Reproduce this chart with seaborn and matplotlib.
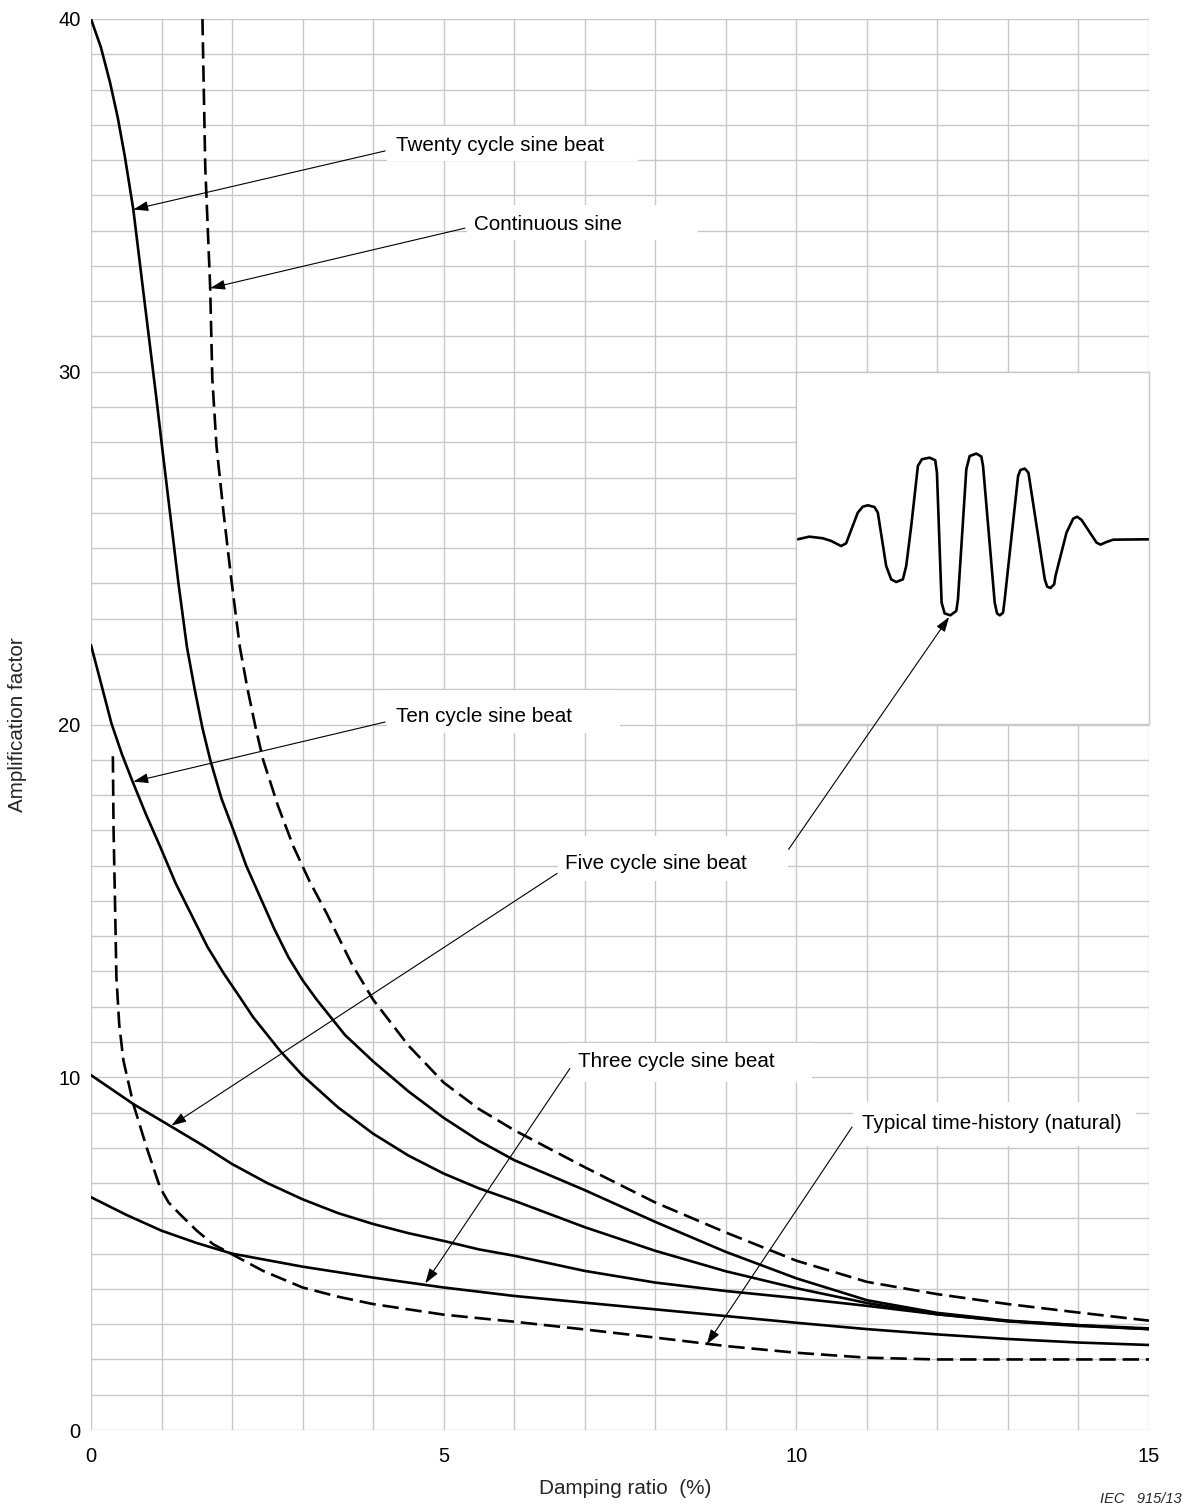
import numpy as np
import pandas as pd
import matplotlib
matplotlib.use("Agg")
import matplotlib.pyplot as plt
import seaborn as sns
from matplotlib.patches import Rectangle
from matplotlib.ticker import MultipleLocator, FuncFormatter

# ---- curve data: damping ratio (%) vs amplification factor ----
twenty_x = [0, 0.14, 0.27, 0.38, 0.48, 0.6, 0.74, 0.93, 1.0, 1.12, 1.24, 1.36, 1.47, 1.58,
            1.69, 1.85, 2.02, 2.2, 2.4, 2.6, 2.8, 3.0, 3.2, 3.6, 4.0, 4.5, 5.0, 5.5, 6, 7,
            8, 9, 10, 11, 12, 13, 14, 15]
twenty_y = [40, 39.2, 38.2, 37.2, 36.1, 34.6, 32.3, 29.2, 28.0, 26.0, 24.0, 22.2, 21.0,
            19.9, 19.0, 17.9, 17.0, 16.0, 15.1, 14.2, 13.4, 12.75, 12.2, 11.2, 10.45, 9.6,
            8.85, 8.2, 7.65, 6.8, 5.9, 5.05, 4.3, 3.68, 3.32, 3.1, 2.97, 2.88]

ten_x = [0, 0.13, 0.29, 0.44, 0.59, 0.78, 0.98, 1.2, 1.45, 1.65, 1.88, 2.1, 2.3, 2.5, 2.68,
         3.0, 3.5, 4.0, 4.5, 5.0, 5.5, 6, 7, 8, 9, 10, 11, 12, 13, 14, 15]
ten_y = [22.25, 21.26, 20.03, 19.15, 18.38, 17.45, 16.54, 15.5, 14.5, 13.7, 12.95, 12.3,
         11.7, 11.2, 10.75, 10.05, 9.15, 8.4, 7.78, 7.27, 6.85, 6.5, 5.75, 5.08, 4.5, 4.02,
         3.6, 3.28, 3.08, 2.95, 2.86]

five_x = [0, 0.6, 1.14, 1.6, 2.0, 2.5, 3.0, 3.5, 4.0, 4.5, 5.0, 5.5, 6, 7, 8, 9, 10, 11,
          12, 13, 14, 15]
five_y = [10.06, 9.24, 8.6, 8.05, 7.54, 7.0, 6.54, 6.15, 5.84, 5.58, 5.36, 5.12, 4.94, 4.51,
          4.18, 3.94, 3.74, 3.52, 3.28, 3.09, 2.97, 2.86]

three_x = [0, 0.5, 1, 1.5, 2, 3, 4, 5, 6, 7, 8, 9, 10, 11, 12, 13, 14, 15]
three_y = [6.6, 6.1, 5.65, 5.3, 5.0, 4.63, 4.32, 4.04, 3.8, 3.61, 3.42, 3.23, 3.04, 2.86,
           2.71, 2.58, 2.48, 2.41]

continuous_x = [1.58, 1.62, 1.69, 1.72, 1.78, 1.88, 1.99, 2.11, 2.22, 2.33, 2.44, 2.65,
                2.87, 3.1, 3.34, 3.7, 4.0, 4.5, 5.0, 5.5, 6, 7, 8, 9, 10, 11, 12, 13, 14, 15]
continuous_y = [40, 35.8, 32.37, 29.8, 27.88, 25.99, 24.1, 22.2, 21.0, 19.95, 19.0, 17.7,
                16.54, 15.55, 14.65, 13.2, 12.2, 10.9, 9.85, 9.1, 8.5, 7.45, 6.45, 5.6, 4.8,
                4.2, 3.85, 3.57, 3.33, 3.1]

natural_x = [0.31, 0.32, 0.34, 0.36, 0.4, 0.46, 0.6, 0.79, 0.98, 1.1, 1.26, 1.5, 1.73, 2.0,
             2.44, 3, 3.5, 4, 5, 6, 7, 8, 9, 10, 11, 12, 13, 14, 15]
natural_y = [19.1, 17.0, 15.0, 12.85, 11.5, 10.47, 9.24, 8.0, 6.87, 6.45, 6.12, 5.65, 5.27,
             4.98, 4.51, 4.04, 3.78, 3.57, 3.27, 3.07, 2.85, 2.62, 2.38, 2.19, 2.05, 2.0,
             2.0, 2.0, 2.0]

# ---- sketch of a beat waveform (time in % of width, relative amplitude) ----
wave_t = [0.38, 3.69, 7.48, 9.85, 12.69, 14.11, 17.42, 18.84, 20.27, 22.16, 23.11, 25.47,
          26.89, 28.31, 30.21, 31.16, 32.58, 34.47, 35.61, 37.78, 39.39, 39.87, 41.19, 42.05,
          43.66, 45.36, 45.83, 48.2, 49.15, 51.04, 52.46, 52.94, 56.25, 56.91, 57.67, 58.62,
          59.09, 62.88, 63.54, 64.77, 65.81, 70.45, 71.12, 72.06, 73.11, 73.48, 76.61, 78.5,
          79.64, 80.87, 85.13, 86.27, 87.97, 89.87, 100]
wave_a = [0, 0.015, 0.006, -0.009, -0.038, -0.023, 0.151, 0.185, 0.193, 0.183, 0.151, -0.151,
          -0.227, -0.242, -0.227, -0.151, 0.076, 0.416, 0.454, 0.463, 0.448, 0.378, -0.359,
          -0.420, -0.431, -0.406, -0.340, 0.397, 0.472, 0.486, 0.469, 0.416, -0.359, -0.420,
          -0.431, -0.416, -0.340, 0.359, 0.393, 0.401, 0.378, -0.227, -0.268, -0.276, -0.255,
          -0.208, 0.038, 0.117, 0.128, 0.110, -0.019, -0.030, -0.015, -0.002, 0]

x_tick_labels = [0, 5, 10, 15]
y_tick_labels = [0, 10, 20, 30, 40]

series = [
    ("Twenty cycle sine beat", twenty_x, twenty_y, ""),
    ("Ten cycle sine beat", ten_x, ten_y, ""),
    ("Five cycle sine beat", five_x, five_y, ""),
    ("Three cycle sine beat", three_x, three_y, ""),
    ("Continuous sine", continuous_x, continuous_y, (6.2, 2.6)),
    ("Typical time-history (natural)", natural_x, natural_y, (6.2, 2.6)),
]
df = pd.concat(
    [pd.DataFrame({"damping": x, "amplification": y, "curve": name})
     for name, x, y, _ in series],
    ignore_index=True,
)

sns.set_theme(style="whitegrid")
plt.rcParams["font.family"] = ["Liberation Sans", "DejaVu Sans"]

GRID = "#c8c8c8"
FS = 14.9
W, H = 1191, 1511

fig = plt.figure(figsize=(W / 100, H / 100), dpi=100)
ax = fig.add_axes([91 / W, 81 / H, 1058 / W, 1411 / H])
ax.set_facecolor("white")

sns.lineplot(
    data=df, x="damping", y="amplification", hue="curve", style="curve",
    palette={name: "black" for name, *_ in series},
    dashes={name: d for name, _, _, d in series},
    estimator=None, sort=False, legend=False, linewidth=1.9, ax=ax, zorder=3,
)
for ln in ax.get_lines():
    ln.set_solid_joinstyle("round")
    ln.set_dash_joinstyle("round")

ax.set_xlim(0, 15)
ax.set_ylim(0, 40)
ax.xaxis.set_major_locator(MultipleLocator(1))
ax.yaxis.set_major_locator(MultipleLocator(1))
ax.xaxis.set_major_formatter(FuncFormatter(
    lambda v, p: f"{v:g}" if round(v) in x_tick_labels and abs(v - round(v)) < 1e-6 else ""))
ax.yaxis.set_major_formatter(FuncFormatter(
    lambda v, p: f"{v:g}" if round(v) in y_tick_labels and abs(v - round(v)) < 1e-6 else ""))
ax.grid(True, color=GRID, linewidth=1.0)
ax.set_axisbelow(True)
ax.tick_params(axis="both", which="major", direction="out", length=3.6, width=1.0,
               color=GRID, labelsize=14.5, labelcolor="black")
ax.tick_params(axis="x", pad=9)
ax.tick_params(axis="y", pad=4)
for sp in ax.spines.values():
    sp.set_visible(False)
ax.set_xlabel("")
ax.set_ylabel("")

# white panels behind the labels
label_boxes = [
    (4.20, 35.97, 7.75, 36.97),
    (5.33, 33.73, 8.60, 34.72),
    (4.20, 19.76, 7.50, 20.97),
    (6.62, 15.55, 9.88, 16.85),
    (6.79, 9.87, 10.22, 10.97),
    (10.80, 8.05, 14.82, 9.30),
]
for x0, y0, x1, y1 in label_boxes:
    ax.add_patch(Rectangle((x0, y0), x1 - x0, y1 - y0, facecolor="white",
                           edgecolor="none", zorder=1))

# waveform panel
ins = ax.inset_axes([10, 20, 5, 10], transform=ax.transData, zorder=1.5)
ins.set_facecolor("white")
ins.grid(False)
ins.set_xticks([])
ins.set_yticks([])
for sp in ins.spines.values():
    sp.set_color(GRID)
    sp.set_linewidth(1.0)
ins.set_xlim(0, 100)
ins.set_ylim(-1.05, 0.95)
sns.lineplot(x=wave_t, y=wave_a, sort=False, estimator=None, color="black",
             linewidth=1.9, ax=ins)
for ln in ins.get_lines():
    ln.set_solid_joinstyle("round")
ins.set_xlabel("")
ins.set_ylabel("")

arrow = dict(arrowstyle="-|>,head_length=0.45,head_width=0.15", mutation_scale=20,
             color="black", lw=0.8, shrinkA=0, shrinkB=0)

labels = [
    ("Twenty cycle sine beat", (4.32, 36.48), [((4.17, 36.26), (0.6, 34.6))]),
    ("Continuous sine", (5.43, 34.23), [((5.30, 34.07), (1.69, 32.37))]),
    ("Ten cycle sine beat", (4.32, 20.27), [((4.17, 20.07), (0.6, 18.38))]),
    ("Five cycle sine beat", (6.72, 16.13), [((6.61, 15.78), (1.14, 8.63))]),
    ("Three cycle sine beat", (6.91, 10.49), [((6.79, 10.25), (4.74, 4.16))]),
    ("Typical time-history (natural)", (10.93, 8.74), [((10.79, 8.59), (8.73, 2.43))]),
]
for text, pos, leaders in labels:
    ax.text(pos[0], pos[1], text, fontsize=FS, ha="left", va="center_baseline",
            color="black", zorder=6)
    for start, tip in leaders:
        ax.annotate("", xy=tip, xytext=start, arrowprops=arrow, zorder=6)

# leader from the five-cycle label to the lowest trough of the waveform
i_min = int(np.argmin(wave_a))
ax.annotate("", xy=(wave_t[i_min], wave_a[i_min]), xycoords=ins.transData,
            xytext=(9.89, 16.46), textcoords=ax.transData,
            arrowprops=dict(arrow, shrinkB=1.5), zorder=7)

fig.text(18 / W, 1 - 725 / H, "Amplification factor", rotation=90, fontsize=FS,
         ha="center", va="center")
fig.text(625 / W, 1 - 1488 / H, "Damping ratio  (%)", fontsize=FS,
         ha="center", va="center")
fig.text(1182 / W, 1 - 1499 / H, "IEC   915/13", fontsize=10.5, style="italic",
         ha="right", va="center")

fig.savefig("out.png", dpi=100, facecolor="white")
